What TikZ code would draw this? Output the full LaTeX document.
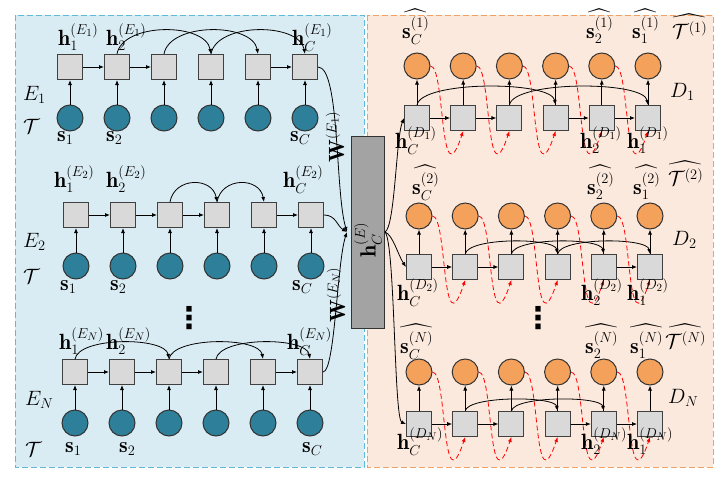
\documentclass[tikz,border=0pt]{standalone}
\usepackage{amsmath}
\usepackage{amssymb}
\usepackage{fontspec}
\newfontfamily\dotsfont{DejaVu Sans}
\usetikzlibrary{positioning}
\usetikzlibrary{calc}
\usetikzlibrary{arrows.meta}
\definecolor{encblue}{RGB}{46,127,153}
\definecolor{decorange}{RGB}{244,161,92}
\definecolor{encbg}{RGB}{218,236,243}
\definecolor{decbg}{RGB}{252,233,221}
\definecolor{encline}{RGB}{95,185,215}
\definecolor{decline}{RGB}{240,160,100}
\definecolor{cellgray}{RGB}{217,217,217}
\definecolor{bargray}{RGB}{163,163,163}

\begin{document}
\begin{tikzpicture}[x=1pt, y=-1pt, >={Latex[length=5pt,width=4pt]},
    every node/.style={font=\fontsize{22}{26}\selectfont, inner sep=0pt},
    cell/.style={draw=black!75, fill=cellgray, line width=1pt, minimum size=25pt},
    enc/.style={circle, draw=black!80, fill=encblue, line width=1pt, minimum size=26pt},
    dec/.style={circle, draw=black!80, fill=decorange, line width=1pt, minimum size=26pt},
    lbl/.style={anchor=base west},
    dotlbl/.style={font=\dotsfont\bfseries\fontsize{30}{30}\selectfont},
    link/.style={->, line width=0.8pt},
    back/.style={->, red, line width=0.8pt, dash pattern=on 5pt off 3pt}]
    \useasboundingbox (0,0) rectangle (728,482);

    % panels
    \draw[encline, fill=encbg, line width=1pt, dash pattern=on 6pt off 3pt] (15,15) rectangle (364,467);
    \draw[decline, fill=decbg, line width=1pt, dash pattern=on 6pt off 3pt] (367,15) rectangle (713,467);

    % context vector
    \node (bar) [draw=black!80, fill=bargray, line width=1pt, minimum width=33pt, minimum height=192pt] at (368,232) {};
    \node (hce) [rotate=90] at (368,240) {$\mathbf{h}_C^{(E)}$};
    \coordinate (merge) at (347,232);

    % encoder E_1
    \foreach \i in {1,...,6} {
        \node (e1b\i) [cell] at ({70+47*(\i-1)},67) {};
        \node (e1s\i) [enc] at ({70+47*(\i-1)},118) {};
        \draw[link] (e1s\i) -- (e1b\i);
    }
    \foreach \a/\b in {1/2,2/3,5/6} \draw[link] (e1b\a) -- (e1b\b);
    \foreach \a/\b in {2/4,3/5,4/6} \draw[link] (e1b\a.north) to[out=80,in=100,looseness=0.88] (e1b\b.north);
    \node (e1h1) [lbl] at (58,45) {$\mathbf{h}_1^{(E_1)}$};
    \node (e1h2) [lbl] at (106,45) {$\mathbf{h}_2^{(E_1)}$};
    \node (e1hc) [lbl] at (292,45) {$\mathbf{h}_C^{(E_1)}$};
    \node (e1l1) [lbl] at (57,141) {$\mathbf{s}_1$};
    \node (e1l2) [lbl] at (106,141) {$\mathbf{s}_2$};
    \node (e1lc) [lbl] at (290,141) {$\mathbf{s}_C$};
    \node (e1name) [lbl] at (23,100) {$E_1$};
    \node (e1t) [lbl] at (23,133) {$\mathcal{T}$};

    % encoder E_2
    \foreach \i in {1,...,6} {
        \node (e2b\i) [cell] at ({76+47*(\i-1)},215) {};
        \node (e2s\i) [enc] at ({76+47*(\i-1)},266) {};
        \draw[link] (e2s\i) -- (e2b\i);
    }
    \foreach \a/\b in {1/2,2/3,3/4,5/6} \draw[link] (e2b\a) -- (e2b\b);
    \foreach \a/\b in {3/4,4/5} \draw[link] (e2b\a.north) to[out=80,in=100,looseness=1.4] (e2b\b.north);
    \node (e2h1) [lbl] at (54,187) {$\mathbf{h}_1^{(E_2)}$};
    \node (e2h2) [lbl] at (106,187) {$\mathbf{h}_2^{(E_2)}$};
    \node (e2hc) [lbl] at (283,187) {$\mathbf{h}_C^{(E_2)}$};
    \node (e2l1) [lbl] at (60,290) {$\mathbf{s}_1$};
    \node (e2l2) [lbl] at (110,290) {$\mathbf{s}_2$};
    \node (e2lc) [lbl] at (292,290) {$\mathbf{s}_C$};
    \node (e2name) [lbl] at (23,247) {$E_2$};
    \node (e2t) [lbl] at (23,283) {$\mathcal{T}$};

    \node (edots) [dotlbl] at (189,318) {⋮};

    % encoder E_N
    \foreach \i in {1,...,6} {
        \node (enb\i) [cell] at ({75+47*(\i-1)},372) {};
        \node (ens\i) [enc] at ({75+47*(\i-1)},423) {};
        \draw[link] (ens\i) -- (enb\i);
    }
    \foreach \a/\b in {1/2,2/3,3/4,5/6} \draw[link] (enb\a) -- (enb\b);
    \foreach \a/\b in {1/3,3/5,4/6} \draw[link] (enb\a.north) to[out=80,in=100,looseness=0.62] (enb\b.north);
    \node (enh1) [lbl] at (59,349) {$\mathbf{h}_1^{(E_N)}$};
    \node (enh2) [lbl] at (106,349) {$\mathbf{h}_2^{(E_N)}$};
    \node (enhc) [lbl] at (287,349) {$\mathbf{h}_C^{(E_N)}$};
    \node (enl1) [lbl] at (65,452) {$\mathbf{s}_1$};
    \node (enl2) [lbl] at (119,452) {$\mathbf{s}_2$};
    \node (enlc) [lbl] at (302,452) {$\mathbf{s}_C$};
    \node (enname) [lbl] at (25,405) {$E_N$};
    \node (ent) [lbl] at (25,456) {$\mathcal{T}$};

    % encoders into context
    \draw[link] (e1b6.east) .. controls +(22,0) and +(-12,-40) .. (merge);
    \draw[link] (e2b6.east) .. controls +(12,0) and +(-10,-6) .. (merge);
    \draw[link] (enb6.east) .. controls +(12,0) and +(-10,30) .. (merge);
    \node (w1) [rotate=90] at (335,137) {$\mathbf{W}^{(E_1)}$};
    \node (wn) [rotate=90] at (336,295) {$\mathbf{W}^{(E_N)}$};

    % decoder D_1
    \foreach \i in {1,...,6} {
        \node (d1b\i) [cell] at ({417+46.2*(\i-1)},118) {};
        \node (d1s\i) [dec] at ({417+46.2*(\i-1)},66) {};
        \draw[link] (d1b\i) -- (d1s\i);
    }
    \foreach \a/\b in {1/2,2/3,4/5,5/6} \draw[link] (d1b\a) -- (d1b\b);
    \foreach \a/\b in {1/4,3/6} \draw[link] (d1b\a.north) to[out=80,in=100,looseness=0.46] (d1b\b.north);
    \foreach \a/\b in {1/2,2/3,3/4,4/5,5/6} \draw[back] (d1s\a.east) .. controls +(15,0) and +(-24,72) .. (d1b\b.south);
    \node (d1lc) [lbl] at (402,38) {$\widehat{\mathbf{s}_C^{(1)}}$};
    \node (d1l2) [lbl] at (586,38) {$\widehat{\mathbf{s}_2^{(1)}}$};
    \node (d1l1) [lbl] at (632,38) {$\widehat{\mathbf{s}_1^{(1)}}$};
    \node (d1t) [lbl] at (672,38) {$\widehat{\mathcal{T}^{(1)}}$};
    \node (d1name) [lbl] at (670,97) {$D_1$};
    \node (d1hc) [lbl] at (395,148) {$\mathbf{h}_C^{(D_1)}$};
    \node (d1h2) [lbl] at (580,148) {$\mathbf{h}_2^{(D_1)}$};
    \node (d1h1) [lbl] at (627,148) {$\mathbf{h}_1^{(D_1)}$};

    % decoder D_2
    \foreach \i in {1,...,6} {
        \node (d2b\i) [cell] at ({419+46.2*(\i-1)},267) {};
        \node (d2s\i) [dec] at ({419+46.2*(\i-1)},216) {};
        \draw[link] (d2b\i) -- (d2s\i);
    }
    \foreach \a/\b in {1/2,2/3,5/6} \draw[link] (d2b\a) -- (d2b\b);
    \foreach \a/\b in {2/4,3/5,4/6} \draw[link] (d2b\a.north) to[out=80,in=100,looseness=0.47] (d2b\b.north);
    \foreach \a/\b in {1/2,2/3,3/4,4/5,5/6} \draw[back] (d2s\a.east) .. controls +(15,0) and +(-24,72) .. (d2b\b.south);
    \node (d2lc) [lbl] at (412,194) {$\widehat{\mathbf{s}_C^{(2)}}$};
    \node (d2l2) [lbl] at (587,194) {$\widehat{\mathbf{s}_2^{(2)}}$};
    \node (d2l1) [lbl] at (633,194) {$\widehat{\mathbf{s}_1^{(2)}}$};
    \node (d2t) [lbl] at (668,185) {$\widehat{\mathcal{T}^{(2)}}$};
    \node (d2name) [lbl] at (672,245) {$D_2$};
    \node (d2hc) [lbl] at (397,300) {$\mathbf{h}_C^{(D_2)}$};
    \node (d2h2) [lbl] at (581,300) {$\mathbf{h}_2^{(D_2)}$};
    \node (d2h1) [lbl] at (627,300) {$\mathbf{h}_1^{(D_2)}$};

    \node (ddots) [dotlbl] at (538,318) {⋮};

    % decoder D_N
    \foreach \i in {1,...,6} {
        \node (dnb\i) [cell] at ({419+46.2*(\i-1)},424) {};
        \node (dns\i) [dec] at ({419+46.2*(\i-1)},372) {};
        \draw[link] (dnb\i) -- (dns\i);
    }
    \foreach \a/\b in {1/2,2/3,4/5,5/6} \draw[link] (dnb\a) -- (dnb\b);
    \foreach \a/\b in {2/4,3/5} \draw[link] (dnb\a.north) to[out=80,in=100,looseness=0.43] (dnb\b.north);
    \foreach \a/\b in {1/2,2/3,3/4,4/5,5/6} \draw[back] (dns\a.east) .. controls +(15,0) and +(-24,72) .. (dnb\b.south);
    \node (dnlc) [lbl] at (400,353) {$\widehat{\mathbf{s}_C^{(N)}}$};
    \node (dnl2) [lbl] at (585,353) {$\widehat{\mathbf{s}_2^{(N)}}$};
    \node (dnl1) [lbl] at (630,353) {$\widehat{\mathbf{s}_1^{(N)}}$};
    \node (dnt) [lbl] at (665,348) {$\widehat{\mathcal{T}^{(N)}}$};
    \node (dnname) [lbl] at (668,403) {$D_N$};
    \node (dnhc) [lbl] at (397,449) {$\mathbf{h}_C^{(D_N)}$};
    \node (dnh2) [lbl] at (581,449) {$\mathbf{h}_2^{(D_N)}$};
    \node (dnh1) [lbl] at (627,449) {$\mathbf{h}_1^{(D_N)}$};

    % context into decoders
    \draw[link] (bar.east) .. controls +(10,-5) and +(-8,20) .. (d1b1.west);
    \draw[link] (bar.east) .. controls +(8,3) and +(-8,-12) .. (d2b1.west);
    \draw[link] (bar.east) .. controls +(10,10) and +(-12,-5) .. (dnb1.west);
\end{tikzpicture}
\end{document}
